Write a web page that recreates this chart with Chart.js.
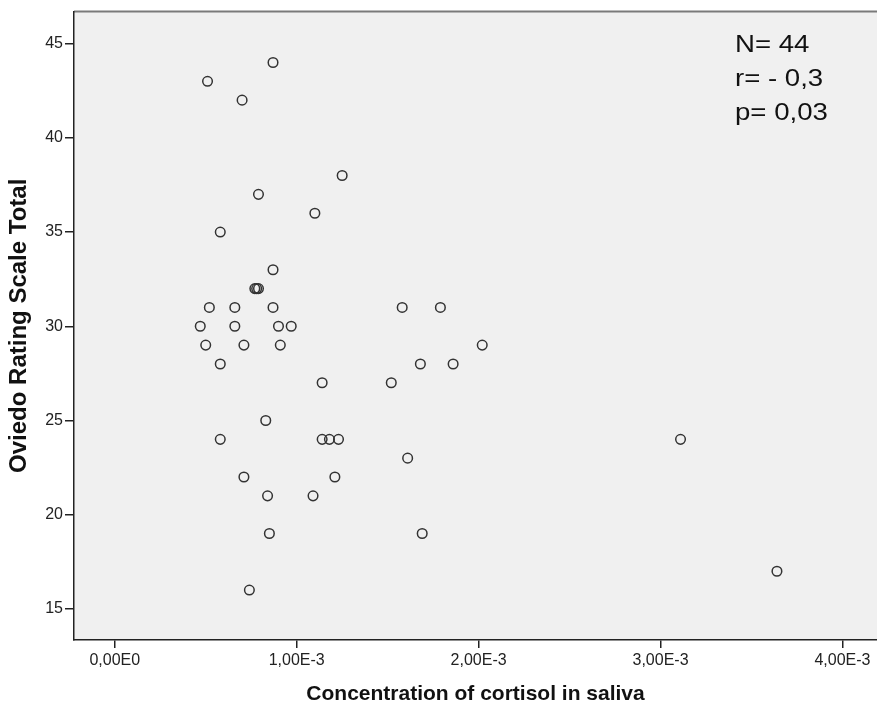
<!DOCTYPE html>
<html>
<head>
<meta charset="utf-8">
<script src="https://cdn.jsdelivr.net/npm/chart.js@4"></script>
<style>
  html, body { margin: 0; padding: 0; background: #fff; overflow: hidden; }
  canvas { display: block; }
</style>
</head>
<body>
<canvas id="scatterChart" width="877" height="708"></canvas>
<script>
// cortisol concentration (x) and Oviedo total (y), one entry per subject
const cortisol = [
  0.00051, 0.00087, 0.00070, 0.00079, 0.00125, 0.00110, 0.00058, 0.00087,
  0.00077, 0.00078, 0.00079,
  0.00052, 0.00066, 0.00087, 0.00158, 0.00179,
  0.00047, 0.00066, 0.00090, 0.00097,
  0.00050, 0.00071, 0.00091, 0.00202,
  0.00058, 0.00168, 0.00186,
  0.00114, 0.00152,
  0.00083,
  0.00058, 0.00114, 0.00118, 0.00123, 0.00311,
  0.00161,
  0.00071, 0.00121,
  0.00084, 0.00109,
  0.00085, 0.00169,
  0.00074, 0.00364,
];
const oviedo = [
  43, 44, 42, 37, 38, 36, 35, 33,
  32, 32, 32,
  31, 31, 31, 31, 31,
  30, 30, 30, 30,
  29, 29, 29, 29,
  28, 28, 28,
  27, 27,
  25,
  24, 24, 24, 24, 24,
  23,
  22, 22,
  21, 21,
  19, 19,
  16, 17,
];

const xTicks = [0, 0.001, 0.002, 0.003, 0.004];
const xTickLabels = ['0,00E0', '1,00E-3', '2,00E-3', '3,00E-3', '4,00E-3'];
const yTicks = [15, 20, 25, 30, 35, 40, 45];
const statLines = ['N= 44', 'r= - 0,3', 'p= 0,03'];

const points = cortisol.map((x, i) => ({ x, y: oviedo[i] }));

const plotBackground = {
  id: 'plotBackground',
  beforeDraw(chart) {
    const { ctx, chartArea: a } = chart;
    ctx.save();
    ctx.fillStyle = '#f0f0f0';
    ctx.fillRect(a.left, a.top, a.right - a.left, a.bottom - a.top);
    ctx.strokeStyle = '#7a7a7a';
    ctx.lineWidth = 2;
    ctx.beginPath();
    ctx.moveTo(a.left, a.top);
    ctx.lineTo(a.right, a.top);
    ctx.stroke();
    ctx.restore();
  },
};

// stats box: the source text is stretched sideways, so scale x a bit
const statsText = {
  id: 'statsText',
  afterDraw(chart) {
    const { ctx } = chart;
    ctx.save();
    ctx.fillStyle = '#111';
    ctx.font = '23px "Liberation Sans", Arial, sans-serif';
    ctx.textBaseline = 'alphabetic';
    ctx.translate(735, 0);
    ctx.scale(1.2, 1);
    statLines.forEach((t, i) => ctx.fillText(t, 0, 52 + i * 34));
    ctx.restore();
  },
};

const tickFont = { family: '"Liberation Sans", Arial, sans-serif', size: 16 };
const fontFamily = '"Liberation Sans", Arial, sans-serif';

new Chart(document.getElementById('scatterChart'), {
  type: 'scatter',
  data: {
    datasets: [{
      data: points,
      pointStyle: 'circle',
      pointRadius: 4.8,
      pointBorderWidth: 1.5,
      borderColor: '#333',
      backgroundColor: 'rgba(0,0,0,0)',
    }],
  },
  options: {
    responsive: false,
    animation: false,
    layout: { autoPadding: false, padding: { top: 9, right: 0, left: 0, bottom: 0 } },
    plugins: { legend: { display: false }, tooltip: { enabled: false } },
    scales: {
      x: {
        type: 'linear',
        min: -0.000224,
        max: 0.00419,
        afterBuildTicks: (s) => { s.ticks = xTicks.map(v => ({ value: v })); },
        afterFit: (s) => { s.height = 68; s.paddingLeft = 0; s.paddingRight = 0; },
        ticks: {
          font: tickFont,
          color: '#222',
          padding: 3,
          maxRotation: 0,
          callback: (v) => xTickLabels[xTicks.indexOf(v)],
        },
        grid: { drawOnChartArea: false, drawTicks: true, tickLength: 8, color: '#222', lineWidth: 1.5 },
        border: { display: true, color: '#222', width: 1.5 },
        title: {
          display: true, text: 'Concentration of cortisol in saliva',
          font: { family: fontFamily, size: 21, weight: 'bold' }, color: '#111',
          padding: { top: 0, bottom: 1 },
        },
      },
      y: {
        min: 13.35,
        max: 46.7,
        afterBuildTicks: (s) => { s.ticks = yTicks.map(v => ({ value: v })); },
        afterFit: (s) => { s.width = 74; },
        ticks: { font: tickFont, color: '#222', padding: 2 },
        grid: { drawOnChartArea: false, drawTicks: true, tickLength: 9, color: '#222', lineWidth: 1.5 },
        border: { display: true, color: '#222', width: 1.5 },
        title: {
          display: true, text: 'Oviedo Rating Scale Total',
          font: { family: fontFamily, size: 24, weight: 'bold' }, color: '#111',
          padding: { top: 5, bottom: 0 },
        },
      },
    },
  },
  plugins: [plotBackground, statsText],
});
</script>
</body>
</html>
